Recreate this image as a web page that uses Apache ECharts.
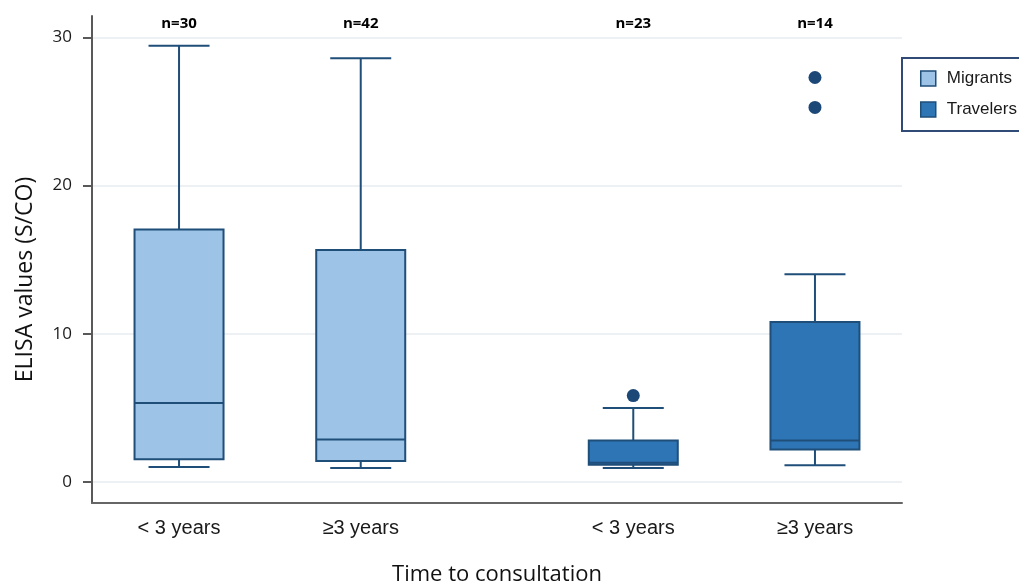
<!DOCTYPE html>
<html>
<head>
<meta charset="utf-8">
<style>
  html, body { margin: 0; padding: 0; background: #fff; }
  #chart { width: 1019px; height: 582px; }
</style>
<script src="https://cdn.jsdelivr.net/npm/echarts@6.0.0/dist/echarts.min.js"></script>
</head>
<body>
<div id="chart"></div>
<script>
// ELISA box plots by time to consultation, migrants vs travelers.
// Data.
var tickLabels = ['< 3 years', '\u22653 years', '< 3 years', '\u22653 years'];
var groupPositions = [0, 2, 5, 7];   // gap between the two populations
var sampleSizes = [30, 42, 23, 14];
var yTicks = [0, 10, 20, 30];

// [min, Q1, median, Q3, max]
var migrantsBoxes = [
    [1.01, 1.53, 5.33, 17.04, 29.44],
    [0.95, 1.42, 2.86, 15.65, 28.6]
];
var travelersBoxes = [
    [0.95, 1.17, 1.3, 2.8, 5.0],
    [1.13, 2.19, 2.8, 10.8, 14.02]
];
// [position, value]
var travelersOutliers = [[5, 5.83], [7, 27.3], [7, 25.28]];

var MIGRANTS_FILL = '#9DC3E6';
var TRAVELERS_FILL = '#2E75B6';
var LINE = '#1F4E79';
var BOX_W = 89;
var CAP_W = 61;

function boxRows(boxes, positions) {
    var rows = [];
    for (var i = 0; i < boxes.length; i++) {
        rows.push([positions[i]].concat(boxes[i]));
    }
    return rows;
}

function renderBox(params, api) {
    var x = api.value(0);
    var lo = api.coord([x, api.value(1)]);
    var q1 = api.coord([x, api.value(2)]);
    var md = api.coord([x, api.value(3)]);
    var q3 = api.coord([x, api.value(4)]);
    var hi = api.coord([x, api.value(5)]);
    var cx = lo[0];
    var hw = BOX_W / 2, cw = CAP_W / 2;
    var st = { stroke: LINE, lineWidth: 2 };
    return {
        type: 'group',
        children: [
            { type: 'line', shape: { x1: cx, y1: hi[1], x2: cx, y2: q3[1] }, style: st },
            { type: 'line', shape: { x1: cx, y1: q1[1], x2: cx, y2: lo[1] }, style: st },
            { type: 'line', shape: { x1: cx - cw, y1: hi[1], x2: cx + cw, y2: hi[1] }, style: st },
            { type: 'line', shape: { x1: cx - cw, y1: lo[1], x2: cx + cw, y2: lo[1] }, style: st },
            { type: 'rect', shape: { x: cx - hw, y: q3[1], width: BOX_W, height: q1[1] - q3[1] },
              style: { fill: api.visual('color'), stroke: LINE, lineWidth: 2 } },
            { type: 'line', shape: { x1: cx - hw, y1: md[1], x2: cx + hw, y2: md[1] }, style: st }
        ]
    };
}

var nLabels = [];
for (var i = 0; i < sampleSizes.length; i++) {
    nLabels.push([groupPositions[i], 30.9, sampleSizes[i]]);
}

var chart = echarts.init(document.getElementById('chart'), null, { renderer: 'canvas' });
chart.setOption({
    animation: false,
    backgroundColor: '#fff',
    grid: { left: 92, right: 117, top: 16, bottom: 79, outerBoundsMode: 'none', containLabel: false },
    legend: {
        orient: 'vertical',
        left: 902,
        top: 58,
        icon: 'rect',
        itemWidth: 15,
        itemHeight: 15,
        itemGap: 14,
        padding: [12, 30, 13, 18],
        borderColor: '#2F4B76',
        borderWidth: 2,
        backgroundColor: '#fff',
        textStyle: { fontFamily: 'Liberation Sans', fontSize: 17, color: '#1a1a1a', padding: [0, 0, 0, 6] },
        data: [
            { name: 'Migrants', itemStyle: { color: MIGRANTS_FILL, borderColor: LINE, borderWidth: 1.5 } },
            { name: 'Travelers', itemStyle: { color: TRAVELERS_FILL, borderColor: LINE, borderWidth: 1.5 } }
        ]
    },
    xAxis: {
        type: 'value',
        min: -0.958,
        max: 7.958,
        name: 'Time to consultation',
        nameLocation: 'middle',
        nameGap: 61,
        nameTextStyle: { fontFamily: 'Open Sans', fontSize: 22, color: '#111' },
        axisLine: { show: true, onZero: false, lineStyle: { color: '#666', width: 2 } },
        axisTick: { show: false },
        splitLine: { show: false },
        axisLabel: {
            customValues: groupPositions,
            margin: 15,
            fontFamily: 'Liberation Sans',
            fontSize: 20,
            color: '#1a1a1a',
            formatter: function (v) {
                var k = groupPositions.indexOf(v);
                return k >= 0 ? tickLabels[k] : '';
            }
        }
    },
    yAxis: {
        type: 'value',
        min: -1.42,
        max: 31.45,
        name: 'ELISA values (S/CO)',
        nameLocation: 'middle',
        nameGap: 55,
        nameRotate: 90,
        nameTextStyle: { fontFamily: 'Open Sans', fontSize: 23, color: '#111', padding: [0, 40, 0, 0] },
        axisLine: { show: true, onZero: false, lineStyle: { color: '#595959', width: 2 } },
        axisTick: { show: true, customValues: yTicks, length: 9, lineStyle: { color: '#595959', width: 2 } },
        axisLabel: { customValues: yTicks, margin: 20, fontFamily: 'Open Sans', fontSize: 17, color: '#1a1a1a' },
        splitLine: { show: true, lineStyle: { color: '#EDF1F4', width: 2 } }
    },
    series: [
        {
            name: 'Migrants',
            type: 'custom',
            renderItem: renderBox,
            itemStyle: { color: MIGRANTS_FILL, borderColor: LINE },
            encode: { x: 0, y: [1, 2, 3, 4, 5] },
            data: boxRows(migrantsBoxes, groupPositions.slice(0, 2)),
            z: 3
        },
        {
            name: 'Travelers',
            type: 'custom',
            renderItem: renderBox,
            itemStyle: { color: TRAVELERS_FILL, borderColor: LINE },
            encode: { x: 0, y: [1, 2, 3, 4, 5] },
            data: boxRows(travelersBoxes, groupPositions.slice(2, 4)),
            z: 3
        },
        {
            name: 'Travelers outliers',
            type: 'scatter',
            symbol: 'circle',
            symbolSize: 13,
            itemStyle: { color: '#1C4878', opacity: 1 },
            data: travelersOutliers,
            z: 4
        },
        {
            name: 'n',
            type: 'scatter',
            symbolSize: 0,
            silent: true,
            itemStyle: { opacity: 1 },
            data: nLabels,
            label: {
                show: true,
                position: 'inside',
                fontFamily: 'Open Sans',
                fontWeight: 'bold',
                fontSize: 15,
                color: '#000',
                opacity: 1,
                formatter: function (p) { return 'n=' + p.value[2]; }
            }
        }
    ]
});
</script>
</body>
</html>
